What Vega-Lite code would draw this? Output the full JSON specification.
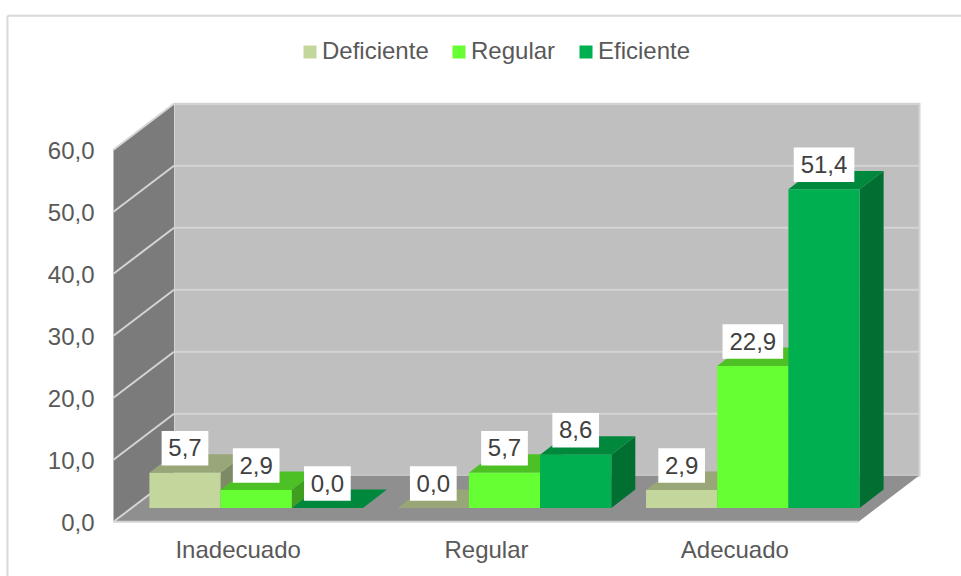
{
"$schema":"https://vega.github.io/schema/vega-lite/v6.json",
"width":806,"height":417.7,
"autosize":{"type":"none"},
"padding":{"left":113.5,"top":104,"right":41.5,"bottom":54.3},
"background":"white",
"view":{"stroke":null},
"config":{"font":"Liberation Sans"},
"params":[
{"name":"gap","value":0.07},
{"name":"barW","value":0.2867},
{"name":"baseDx","value":0.0745},
{"name":"baseDy","value":2.21},
{"name":"depthDx","value":0.0966},
{"name":"depthDy","value":2.97},
{"name":"wallDx","value":0.2436},
{"name":"wallDy","value":7.4}
],
"data":{"values":[
{"categoria":"Inadecuado","serie":"Deficiente","valor":5.7},
{"categoria":"Inadecuado","serie":"Regular","valor":2.9},
{"categoria":"Inadecuado","serie":"Eficiente","valor":0.0},
{"categoria":"Regular","serie":"Deficiente","valor":0.0},
{"categoria":"Regular","serie":"Regular","valor":5.7},
{"categoria":"Regular","serie":"Eficiente","valor":8.6},
{"categoria":"Adecuado","serie":"Deficiente","valor":2.9},
{"categoria":"Adecuado","serie":"Regular","valor":22.9},
{"categoria":"Adecuado","serie":"Eficiente","valor":51.4}
]},
"transform":[
{"calculate":"indexof(['Inadecuado','Regular','Adecuado'],datum.categoria)","as":"ci"},
{"calculate":"indexof(['Deficiente','Regular','Eficiente'],datum.serie)","as":"si"},
{"calculate":"datum.ci+gap+baseDx+datum.si*barW","as":"xL"},
{"calculate":"datum.xL+barW","as":"xR"},
{"calculate":"datum.xL+barW/2","as":"xC"},
{"calculate":"baseDy+datum.valor","as":"yT"},
{"calculate":"baseDy","as":"y0"},
{"calculate":"replace(format(datum.valor,'.1f'),'.',',')","as":"etiqueta"},
{"calculate":"datum.categoria+'-'+datum.serie","as":"barra"}
],
"layer":[
{
"data":{"values":[{"v":0},{"v":10},{"v":20},{"v":30},{"v":40},{"v":50},{"v":60}]},
"transform":[{"calculate":"0.5+datum.v/20","as":"xa"}],
"mark":{"type":"point","opacity":0},
"encoding":{
"x":{"field":"xa","type":"quantitative","scale":{"domain":[0,3.2457],"nice":false,"zero":false},
"axis":{"title":null,"values":[0.5,1.5,2.5],"labelExpr":"['Inadecuado','Regular','Adecuado'][floor(datum.value)]","domain":false,"ticks":false,"grid":false,"labelFontSize":24,"labelColor":"#595959","labelPadding":17,"labelAngle":0,"labelOverlap":false,"labelFlush":false,"labelBound":false,"labelFont":"Liberation Sans"}},
"y":{"field":"v","type":"quantitative","scale":{"domain":[0,67.37],"nice":false,"zero":false},
"axis":{"title":null,"values":[0,10,20,30,40,50,60],"labelExpr":"replace(format(datum.value,'.1f'),'.',',')","domain":false,"ticks":false,"grid":false,"labelFontSize":24,"labelColor":"#595959","labelPadding":19.5,"labelOffset":1.5,"labelOverlap":false,"labelFlush":false,"labelBound":false,"labelFont":"Liberation Sans"}}
}
},
{
"data":{"values":[{"pared":"fondo"}]},
"transform":[],
"mark":{"type":"rect","fill":"#bfbfbf","stroke":"#d4d4d4","strokeWidth":2},
"encoding":{
"x":{"datum":0.2436,"type":"quantitative","title":null},
"x2":{"datum":3.2457},
"y":{"datum":7.4,"type":"quantitative","title":null},
"y2":{"datum":67.37}
}
},
{
"data":{"values":[{"lado":"frente"},{"lado":"fondo"}]},
"transform":[
{"calculate":"datum.lado=='frente'?0:wallDx","as":"xs"},
{"calculate":"datum.lado=='frente'?60:60+wallDy","as":"ys"},
{"calculate":"datum.lado=='frente'?0:wallDy","as":"ys0"}
],
"mark":{"type":"area","fill":"#7b7b7b","orient":"vertical"},
"encoding":{
"x":{"field":"xs","type":"quantitative","title":null},
"y":{"field":"ys","type":"quantitative","title":null,"stack":null},
"y2":{"field":"ys0"}
}
},
{
"data":{"values":[{"lado":"frente"},{"lado":"fondo"}]},
"transform":[
{"calculate":"datum.lado=='frente'?0:wallDy","as":"ys"},
{"calculate":"datum.lado=='frente'?0:wallDx","as":"xs0"},
{"calculate":"datum.lado=='frente'?3:3+wallDx","as":"xs1"}
],
"mark":{"type":"area","fill":"#8f8f8f","orient":"horizontal"},
"encoding":{
"y":{"field":"ys","type":"quantitative","title":null},
"x":{"field":"xs0","type":"quantitative","title":null,"stack":null},
"x2":{"field":"xs1"}
}
},
{
"data":{"values":[{"v":0},{"v":10},{"v":20},{"v":30},{"v":40},{"v":50},{"v":60}]},
"transform":[{"calculate":"datum.v+wallDy","as":"vb"},{"calculate":"wallDx","as":"xb"},{"calculate":"0","as":"xf"}],
"mark":{"type":"rule","color":"#d4d4d4","strokeWidth":2},
"encoding":{
"x":{"field":"xf","type":"quantitative","title":null},
"x2":{"field":"xb"},
"y":{"field":"v","type":"quantitative","title":null},
"y2":{"field":"vb"}
}
},
{
"data":{"values":[{"v":10},{"v":20},{"v":30},{"v":40},{"v":50},{"v":60}]},
"transform":[{"calculate":"datum.v+wallDy","as":"vb"},{"calculate":"wallDx","as":"xb"},{"calculate":"3.2457","as":"xe"}],
"mark":{"type":"rule","color":"#d4d4d4","strokeWidth":2},
"encoding":{
"x":{"field":"xb","type":"quantitative","title":null},
"x2":{"field":"xe"},
"y":{"field":"vb","type":"quantitative","title":null}
}
},
{
"data":{"values":[{"lado":"piso"}]},
"transform":[],
"mark":{"type":"rule","color":"#d4d4d4","strokeWidth":2},
"encoding":{
"x":{"datum":0,"type":"quantitative","title":null},
"x2":{"datum":3},
"y":{"datum":0,"type":"quantitative","title":null}
}
},
{
"data":{"values":[{"borde":"izquierdo"}]},
"transform":[],
"mark":{"type":"rule","color":"#d9d9d9","strokeWidth":2},
"encoding":{
"x":{"datum":-0.427,"type":"quantitative","title":null},
"y":{"datum":-9,"type":"quantitative","title":null},
"y2":{"datum":81.6}
}
},
{
"data":{"values":[{"borde":"superior"}]},
"transform":[],
"mark":{"type":"rule","color":"#d9d9d9","strokeWidth":2},
"encoding":{
"x":{"datum":-0.427,"type":"quantitative","title":null},
"x2":{"datum":3.413},
"y":{"datum":81.6,"type":"quantitative","title":null}
}
},
{
"transform":[
{"calculate":"datum.xR+depthDx","as":"xD"},
{"fold":["xR","xD"],"as":["cara","xp"]},
{"calculate":"datum.cara=='xR'?datum.yT:datum.yT+depthDy","as":"ys"},
{"calculate":"datum.cara=='xR'?datum.y0:datum.y0+depthDy","as":"ys0"}
],
"mark":{"type":"area","orient":"vertical"},
"encoding":{
"x":{"field":"xp","type":"quantitative","title":null},
"y":{"field":"ys","type":"quantitative","title":null,"stack":null},
"y2":{"field":"ys0"},
"detail":{"field":"barra"},
"color":{"field":"serie","type":"nominal","legend":null,"scale":{"domain":["Deficiente","Regular","Eficiente"],"range":["#7e8a65","#3f9e20","#006f31"]}}
}
},
{
"transform":[
{"calculate":"datum.yT+depthDy","as":"yB"},
{"fold":["yT","yB"],"as":["cara","ys"]},
{"calculate":"datum.cara=='yT'?datum.xL:datum.xL+depthDx","as":"xs0"},
{"calculate":"datum.cara=='yT'?datum.xR:datum.xR+depthDx","as":"xs1"}
],
"mark":{"type":"area","orient":"horizontal"},
"encoding":{
"y":{"field":"ys","type":"quantitative","title":null},
"x":{"field":"xs0","type":"quantitative","title":null,"stack":null},
"x2":{"field":"xs1"},
"detail":{"field":"barra"},
"color":{"field":"serie","type":"nominal","legend":null,"scale":{"domain":["Deficiente","Regular","Eficiente"],"range":["#98a678","#4dc026","#00893c"]}}
}
},
{
"mark":{"type":"rect"},
"encoding":{
"x":{"field":"xL","type":"quantitative","title":null},
"x2":{"field":"xR"},
"y":{"field":"yT","type":"quantitative","title":null},
"y2":{"field":"y0"},
"color":{"field":"serie","type":"nominal","sort":null,
"scale":{"domain":["Deficiente","Regular","Eficiente"],"range":["#c3d69b","#66ff33","#00b050"]},
"legend":{"title":null,"orient":"none","direction":"horizontal","legendX":184.5,"legendY":-64,"padding":0,"symbolType":"square","symbolSize":169,"symbolStrokeWidth":0,"symbolOpacity":1,"labelFontSize":24,"labelColor":"#595959","labelFont":"Liberation Sans","columnPadding":18,"labelOffset":0,"columns":3}}
}
},
{
"transform":[
{"calculate":"length(datum.etiqueta)>3?0.122:0.094","as":"hw"},
{"calculate":"datum.xC-datum.hw","as":"bx0"},
{"calculate":"datum.xC+datum.hw","as":"bx1"},
{"calculate":"datum.yT+3.95-2.78","as":"by0"},
{"calculate":"datum.yT+3.95+2.78","as":"by1"}
],
"mark":{"type":"rect","fill":"white"},
"encoding":{
"x":{"field":"bx0","type":"quantitative","title":null},
"x2":{"field":"bx1"},
"y":{"field":"by0","type":"quantitative","title":null},
"y2":{"field":"by1"}
}
},
{
"transform":[{"calculate":"datum.yT+3.95","as":"yl"}],
"mark":{"type":"text","fontSize":24,"color":"#404040","font":"Liberation Sans","baseline":"middle","align":"center","dy":1},
"encoding":{
"x":{"field":"xC","type":"quantitative","title":null},
"y":{"field":"yl","type":"quantitative","title":null},
"text":{"field":"etiqueta"}
}
}
],
"resolve":{"scale":{"color":"independent"}}
}
